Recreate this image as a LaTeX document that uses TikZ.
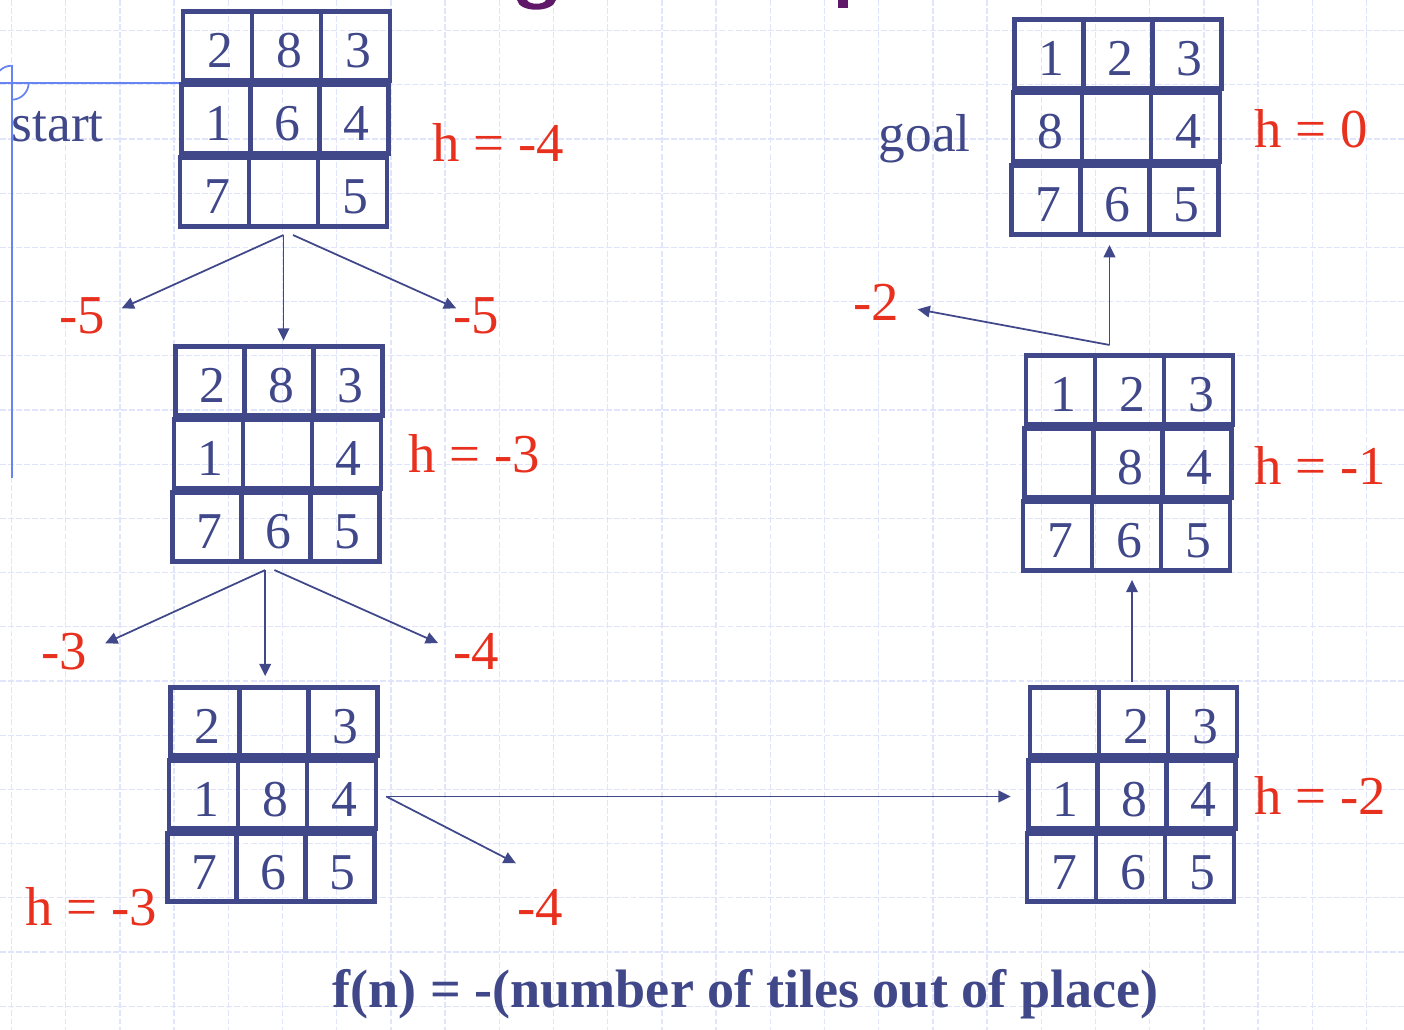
\documentclass[tikz,border=0pt]{standalone}
\usepackage{fontspec}
\setmainfont{Liberation Serif}
\usetikzlibrary{positioning, calc, arrows.meta}

\definecolor{tilenavy}{RGB}{64,72,137}
\definecolor{hred}{RGB}{232,48,30}
\definecolor{gridblue}{RGB}{224,229,251}
\definecolor{markblue}{RGB}{104,132,240}
\definecolor{titlepurple}{RGB}{96,24,104}

\newcommand{\board}[6]{%
  \foreach \t [count=\c from 1] in {#4}
    \node[tile] (#1-\c) at (#2+\c*69-136.5, #3-73) {\kern1.4pt\t};
  \foreach \t [count=\c from 4] in {#5}
    \node[tile] (#1-\c) at (#2+\c*69-345, #3) {\kern1.4pt\t};
  \foreach \t [count=\c from 7] in {#6}
    \node[tile] (#1-\c) at (#2+\c*69-553.5, #3+73) {\kern1.4pt\t};
}

\begin{document}
\begin{tikzpicture}[x=0.1mm, y=-0.1mm,
    tile/.style={draw=tilenavy, line width=1.3pt, text=tilenavy, inner sep=0pt,
      minimum width=6.9mm, minimum height=6.85mm, text height=12.5pt, text depth=0pt,
      font=\fontsize{14.7}{17}\selectfont},
    hval/.style={text=hred, anchor=base west, inner sep=0pt, font=\fontsize{15.6}{18}\selectfont},
    tag/.style={text=tilenavy, anchor=base west, inner sep=0pt, font=\fontsize{15.2}{18}\selectfont},
    link/.style={draw=tilenavy, line width=0.5pt, -{Triangle[length=3.5pt, width=3.3pt]}},
    gridline/.style={draw=gridblue, line width=0.35pt, dash pattern=on 1.7pt off 0.6pt},
    marker/.style={draw=markblue, line width=0.5pt}]

  \useasboundingbox (0,0) rectangle (1404,1030);
  \clip (0,0) rectangle (1404,1030);

  \foreach \gx in {0,...,25}
    \draw[gridline] (11.5+\gx*54.2, 0) -- (11.5+\gx*54.2, 1030);
  \foreach \gy in {0,...,18}
    \draw[gridline] (0, 30.6+\gy*54.2) -- (1404, 30.6+\gy*54.2);

  \fill[titlepurple] (517,0) .. controls (519,13) and (553,13) .. (556,0) -- (546,0)
    .. controls (544,5) and (529,5) .. (527,0) -- cycle;
  \fill[titlepurple] (838,0) rectangle (848,8.3);

  \draw[marker] (11.7,65) -- (11.7,478);
  \draw[marker] (0,82.7) -- (180.7,82.7);
  \draw[marker] (11.7,65.7) arc[start angle=-90, end angle=-180, radius=17];
  \draw[marker] (28.7,82.7) arc[start angle=0, end angle=90, radius=17];

  \board{start}{285}{119}{2,8,3}{1,6,4}{7,{},5}
  \board{second}{277.4}{454}{2,8,3}{1,{},4}{7,6,5}
  \board{third}{272.5}{794.5}{2,{},3}{1,8,4}{7,6,5}
  \board{fourth}{1132}{794.5}{{},2,3}{1,8,4}{7,6,5}
  \board{fifth}{1128}{463}{1,2,3}{{},8,4}{7,6,5}
  \board{goal}{1116.5}{127}{1,2,3}{8,{},4}{7,6,5}

  \node[tag] (starttag) at (11,142) {start};
  \node[tag] (goaltag) at (878,152) {goal};

  \node[hval] (hstart) at (432,162) {h = -4};
  \node[hval] (hsecond) at (408,473) {h = -3};
  \node[hval] (hthird) at (25,925) {h = -3};
  \node[hval] (hfourth) at (1254,814) {h = -2};
  \node[hval] (hfifth) at (1254,485) {h = -1};
  \node[hval] (hgoal) at (1254,148) {h = 0};

  \node[hval] (fa) at (59,334) {-5};
  \node[hval] (fb) at (453,334) {-5};
  \node[hval] (fc) at (41,670) {-3};
  \node[hval] (fd) at (453,670) {-4};
  \node[hval] (fe) at (517,925) {-4};
  \node[hval] (ff) at (853,321) {-2};

  \coordinate (ta) at (121.7,308.3);
  \coordinate (tb) at (456.2,308.3);
  \coordinate (tc) at (105.2,643.3);
  \coordinate (td) at (438,643);
  \coordinate (te) at (515.9,863.3);
  \coordinate (tf) at (917.6,309.3);

  \coordinate (o1) at ($(start-8.south)+(0,6.5)$);
  \coordinate (o2) at ($(start-8.south)+(9.5,6.5)$);
  \coordinate (o3) at ($(second-8.south)+(-10.7,6.5)$);
  \coordinate (o4) at ($(second-8.south)+(-1.5,6.5)$);
  \coordinate (o5) at ($(third-6.east)+(8,2)$);
  \coordinate (o6) at ($(fourth-2.north)+(-1.5,-3)$);
  \coordinate (o7) at ($(fifth-2.north)+(-20,-8.5)$);

  \draw[link] (o1) -- (ta);
  \draw[link, shorten >=1.1pt] (o1) -- (o1 |- second-2.north);
  \draw[link] (o2) -- (tb);

  \draw[link] (o3) -- (tc);
  \draw[link, shorten >=2.5pt] (o3) -- (o3 |- third-2.north);
  \draw[link] (o4) -- (td);

  \draw[link, shorten >=4.4pt] (o5) -- (o5 -| fourth-4.west);
  \draw[link] (o5) -- (te);

  \draw[link, shorten >=2.1pt] (o6) -- (o6 |- fifth-8.south);

  \draw[link, shorten >=2.4pt] (o7) -- (o7 |- goal-8.south);
  \draw[link] (o7) -- (tf);

  \node[text=tilenavy, anchor=base, inner sep=0pt, font=\fontsize{15.4}{18}\selectfont\bfseries]
    (rule) at (745.5,1007) {f(n) = -(number of tiles out of place)};
\end{tikzpicture}
\end{document}
